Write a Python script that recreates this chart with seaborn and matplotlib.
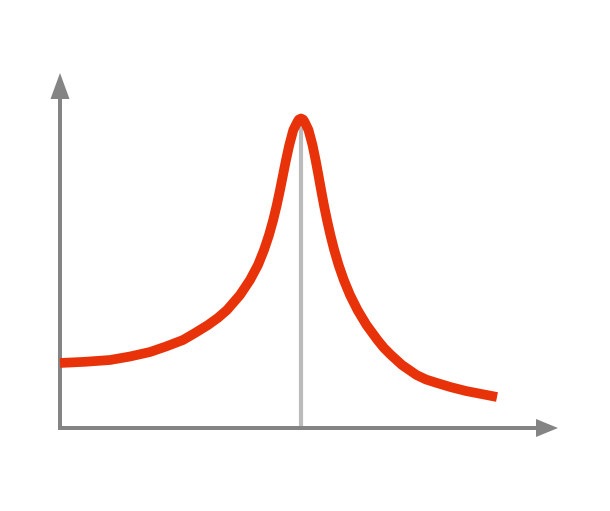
import pandas as pd
import matplotlib
matplotlib.use('Agg')
import matplotlib.pyplot as plt
import seaborn as sns

# resonance curve, values (arbitrary units)
freq = [0.000, 0.250, 0.500, 0.700, 0.900, 1.060, 1.230, 1.350, 1.480, 1.580,
        1.670, 1.800, 1.900, 1.980, 2.040, 2.090, 2.132, 2.168, 2.200, 2.230,
        2.260, 2.293, 2.333, 2.373, 2.388, 2.410, 2.432, 2.447, 2.485, 2.525,
        2.556, 2.584, 2.611, 2.639, 2.670, 2.704, 2.742, 2.786, 2.838, 2.900,
        2.975, 3.065, 3.175, 3.240, 3.310, 3.420, 3.565, 3.660, 3.770, 3.910,
        4.060, 4.370]
amp = [0.650, 0.662, 0.680, 0.715, 0.760, 0.815, 0.880, 0.950, 1.030, 1.102,
       1.180, 1.330, 1.480, 1.630, 1.780, 1.930, 2.080, 2.230, 2.380, 2.530,
       2.680, 2.830, 2.980, 3.060, 3.084, 3.095, 3.084, 3.060, 2.980, 2.830,
       2.680, 2.530, 2.380, 2.230, 2.080, 1.930, 1.780, 1.630, 1.480, 1.330,
       1.180, 1.030, 0.880, 0.800, 0.730, 0.630, 0.530, 0.485, 0.450, 0.408,
       0.370, 0.310]
peak_freq = 2.410
peak_amp = 3.095
x_end = 4.98
y_end = 3.55

df = pd.DataFrame({'freq': freq, 'amp': amp})

sns.set_style('white')
fig = plt.figure(figsize=(6.1, 5.11), dpi=100)
ax = fig.add_axes([0, 0, 1, 1])

# marker line at the resonance
ax.plot([peak_freq, peak_freq], [0, peak_amp], color='#bbbbbb', lw=3, zorder=1)

sns.lineplot(data=df, x='freq', y='amp', estimator=None, sort=False, color='#e8330a',
             lw=7, ax=ax, zorder=3, solid_capstyle='butt', solid_joinstyle='round')

# axes with arrow heads
ax.arrow(-0.02, 0, x_end + 0.02, 0, width=0.04, head_width=0.18, head_length=0.22,
         length_includes_head=True, color='#848484', lw=0, zorder=2)
ax.arrow(0, -0.02, 0, y_end + 0.02, width=0.04, head_width=0.19, head_length=0.26,
         length_includes_head=True, color='#848484', lw=0, zorder=2)

ax.set_xlim(-0.60, 5.50)
ax.set_ylim(-0.83, 4.28)
ax.axis('off')
plt.savefig('out.png', dpi=100)
